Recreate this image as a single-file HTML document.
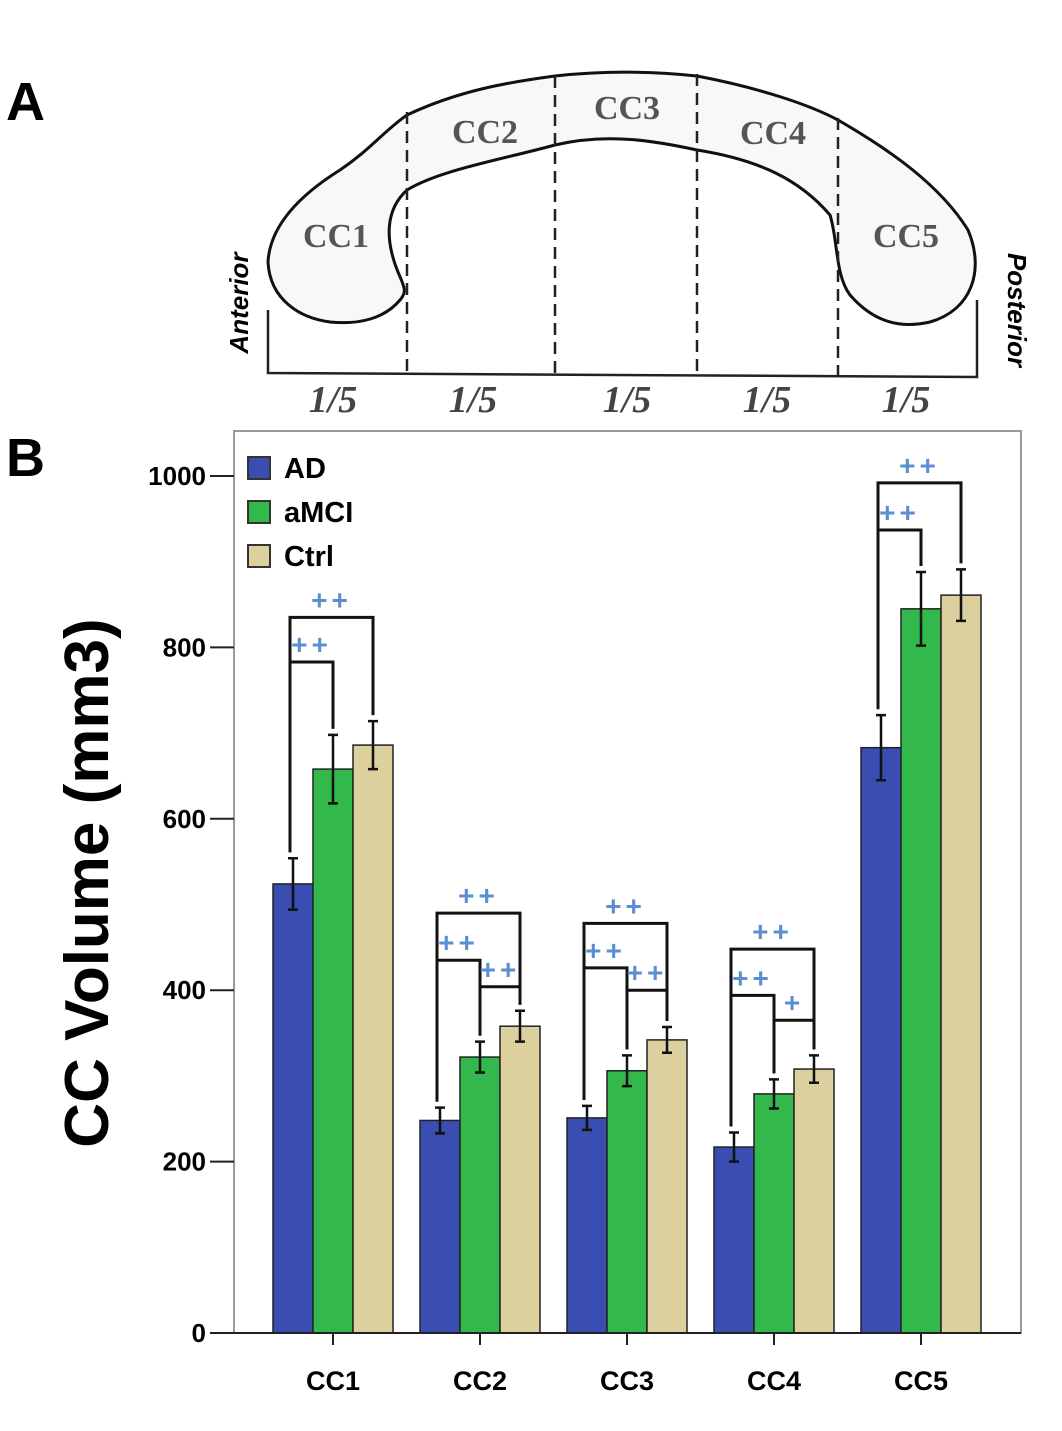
<!DOCTYPE html>
<html><head><meta charset="utf-8"><style>
body{margin:0;background:#fff;}
svg{display:block;font-family:"Liberation Sans",sans-serif;}
</style></head><body>
<svg id="fig" width="1062" height="1431" viewBox="0 0 1062 1431">
<text x="6" y="120" font-size="54" font-weight="bold">A</text>
<text x="6" y="476" font-size="54" font-weight="bold">B</text>
<g>
<path d="M268,262 C270,225 300,195 340,170 C370,150 385,130 407,115 C460,90 510,82 555,76 C610,70 660,72 697,76 C760,88 810,105 838,120 C890,150 940,185 968,230 C985,270 972,310 930,322 C895,330 870,318 850,295 C835,275 838,240 830,215 C800,180 760,160 697,150 C660,142 610,132 555,145 C500,160 440,170 407,190 C385,210 385,240 398,272 C405,288 407,292 400,300 C385,318 360,325 330,322 C300,318 270,300 268,262 Z" fill="#f8f8f8" stroke="#111" stroke-width="3"/>
<g stroke="#222" stroke-width="2.5" stroke-dasharray="12,7">
<line x1="407" y1="112" x2="407" y2="375"/><line x1="555" y1="76" x2="555" y2="375"/>
<line x1="697" y1="74" x2="697" y2="375"/><line x1="838" y1="118" x2="838" y2="375"/>
</g>
<polyline points="268,310 268,373 977,377 977,300" fill="none" stroke="#222" stroke-width="2.5"/>
<g font-family="'Liberation Serif',serif" font-weight="bold" font-size="34" fill="#555" text-anchor="middle">
<text x="336" y="247">CC1</text>
<text x="485" y="143">CC2</text>
<text x="627" y="119">CC3</text>
<text x="773" y="144">CC4</text>
<text x="906" y="247">CC5</text>
</g>
<g font-family="'Liberation Serif',serif" font-weight="bold" font-style="italic" font-size="38" fill="#444" text-anchor="middle">
<text x="333" y="412">1/5</text>
<text x="473" y="412">1/5</text>
<text x="627" y="412">1/5</text>
<text x="767" y="412">1/5</text>
<text x="906" y="412">1/5</text>
</g>
<text transform="translate(248,303) rotate(-90)" text-anchor="middle" font-size="26" font-weight="bold" font-style="italic">Anterior</text>
<text transform="translate(1008,310) rotate(90)" text-anchor="middle" font-size="26" font-weight="bold" font-style="italic">Posterior</text>
</g>
<rect x="234" y="431" width="787" height="902" fill="none" stroke="#999" stroke-width="2"/>
<text transform="translate(108,883) rotate(-90)" text-anchor="middle" font-size="62" font-weight="bold">CC Volume (mm3)</text>
<g id="chart"></g>
</svg>
<script>
const categories=["CC1","CC2","CC3","CC4","CC5"];
const seriesNames=["AD","aMCI","Ctrl"];
const adValues=[524,248,251,217,683];
const amciValues=[658,322,306,279,845];
const ctrlValues=[686,358,342,308,861];
const adErr=[30,15,14,17,38];
const amciErr=[40,18,18,17,43];
const ctrlErr=[28,18,15,16,30];
const yTicks=[0,200,400,600,800,1000];
const bracketGroup=[0,0,1,1,1,2,2,2,3,3,3,4,4];
const bracketFrom=[0,0,0,0,1,0,0,1,0,0,1,0,0];
const bracketTo=[2,1,2,1,2,2,1,2,2,1,2,2,1];
const bracketLevel=[835,783,490,435,404,478,426,400,448,394,365,992,937];
const bracketLabel=["++","++","++","++","++","++","++","++","++","++","+","++","++"];
const colors=["#3a4db0","#33b84c","#dcd09f"];
const NS="http://www.w3.org/2000/svg";
const g=document.getElementById("chart");
const y0=1333,pxPer=0.857;
const y=v=>y0-v*pxPer;
const gx=i=>333+i*147;
const bw=40;
const bx=(i,s)=>gx(i)-60+s*bw;
const vals=[adValues,amciValues,ctrlValues],errs=[adErr,amciErr,ctrlErr];
function mk(t,a){const e=document.createElementNS(NS,t);for(const k in a)e.setAttribute(k,a[k]);g.appendChild(e);return e;}
yTicks.forEach(t=>{
 const l=mk("line",{x1:210,x2:234,y1:y(t),y2:y(t),stroke:"#222","stroke-width":2});
 
 
 const tx=mk("text",{x:206,y:y(t)+9,"text-anchor":"end","font-size":26,"font-weight":"bold"});
 tx.textContent=t;
 
 
});
categories.forEach((c,i)=>{
 seriesNames.forEach((s,k)=>{
  const v=vals[k][i],e=errs[k][i];
  const r=mk("rect",{x:bx(i,k),y:y(v),width:bw,height:y0-y(v),fill:colors[k],stroke:"#222","stroke-width":1.5});
  
  
  const cx=bx(i,k)+bw/2;
  const eb=mk("path",{d:`M${cx},${y(v+e)}V${y(v-e)}M${cx-5},${y(v+e)}H${cx+5}M${cx-5},${y(v-e)}H${cx+5}`,stroke:"#111","stroke-width":2.5,fill:"none"});
  
  
 });
 const tk=mk("line",{x1:gx(i),x2:gx(i),y1:y0,y2:y0+12,stroke:"#222","stroke-width":2});
 
 
 const lb=mk("text",{x:gx(i),y:1390,"text-anchor":"middle","font-size":27,"font-weight":"bold"});
 lb.textContent=c;
 
 
});
const ax=mk("line",{x1:210,x2:1021,y1:y0,y2:y0,stroke:"#222","stroke-width":2});


bracketGroup.forEach((gi,j)=>{
 const f=bracketFrom[j],t=bracketTo[j],lv=y(bracketLevel[j]);
 const x2=bx(gi,t)+bw/2;
 const xa=f===0?bx(gi,0)+bw/2-3:bx(gi,f)+bw/2;
 const yb1=y(vals[f][gi]+errs[f][gi])-6,yb2=y(vals[t][gi]+errs[t][gi])-6;
 const p=mk("path",{d:`M${xa},${yb1}V${lv}H${x2}V${yb2}`,stroke:"#111","stroke-width":3,fill:"none"});
 
 
 const st=mk("text",{x:(xa+x2)/2,y:lv-8,"text-anchor":"middle","font-size":28,"font-weight":"bold",fill:"#5b8fd0","letter-spacing":4});
 st.textContent=bracketLabel[j];
 
 
});
seriesNames.forEach((s,k)=>{
 const yy=457+k*44;
 const r=mk("rect",{x:248,y:yy,width:22,height:22,fill:colors[k],stroke:"#333","stroke-width":2});
 
 
 const t=mk("text",{x:284,y:yy+21,"font-size":29,"font-weight":"bold"});
 t.textContent=s;
 
 
});
</script>
</body></html>
